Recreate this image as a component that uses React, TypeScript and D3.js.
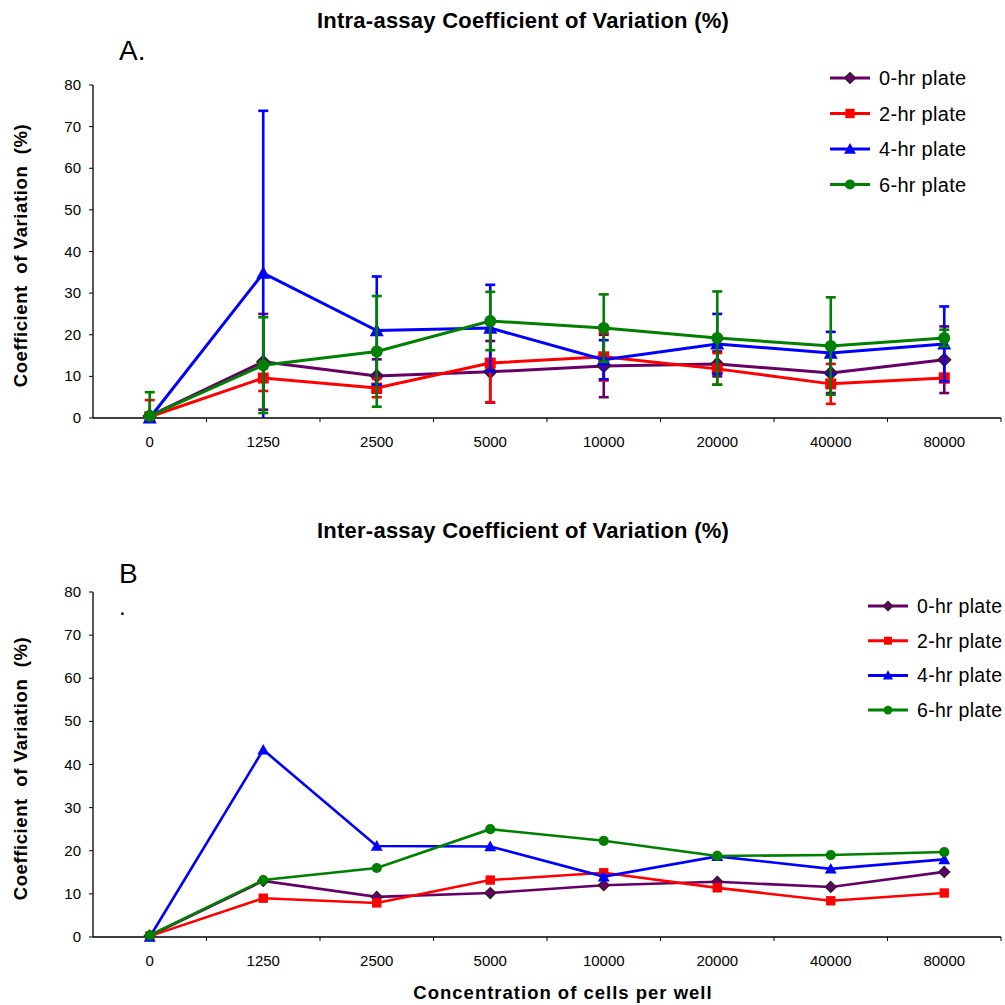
import React from "react";
import * as d3 from "d3";

const categories = ["0", "1250", "2500", "5000", "10000", "20000", "40000", "80000"];
const seriesNames = ["0-hr plate", "2-hr plate", "4-hr plate", "6-hr plate"];
const yTicks = [0, 10, 20, 30, 40, 50, 60, 70, 80];

// panel A: intra-assay means and error bar half-widths
const intraHr0 = [0.5, 13.5, 10.1, 11.1, 12.5, 13.0, 10.8, 14.0];
const intraHr2 = [0.3, 9.6, 7.2, 13.2, 14.7, 11.8, 8.2, 9.6];
const intraHr4 = [0.0, 34.8, 21.0, 21.6, 14.0, 17.8, 15.6, 17.8];
const intraHr6 = [0.5, 12.7, 16.0, 23.3, 21.6, 19.2, 17.3, 19.2];
const intraErr0 = [0, 11.5, 4.0, 7.4, 7.5, 3.0, 4.8, 8.0];
const intraErr2 = [4.0, 3.1, 2.2, 9.4, 5.7, 3.8, 4.8, 1.0];
const intraErr4 = [0, 39.0, 13.0, 10.4, 4.7, 7.2, 5.1, 9.0];
const intraErr6 = [5.7, 11.5, 13.3, 7.0, 8.1, 11.2, 11.7, 2.0];

// panel B: inter-assay means
const interHr0 = [0.3, 13.0, 9.3, 10.2, 12.0, 12.8, 11.6, 15.1];
const interHr2 = [0.2, 9.0, 7.9, 13.2, 14.9, 11.4, 8.4, 10.2];
const interHr4 = [0.0, 43.4, 21.1, 21.0, 14.0, 18.7, 15.8, 18.0];
const interHr6 = [0.4, 13.2, 16.0, 25.0, 22.3, 18.8, 19.0, 19.7];

const colors = ["#660066", "#ff0000", "#0000ff", "#008000"];
const shapes = ["diamond", "square", "triangle", "circle"];

type Panel = {
  top: number;
  bottom: number;
  title: string;
  titleY: number;
  letter: string;
  letterY: number;
  dot: boolean;
  values: number[][];
  errors: number[][] | null;
  legendX: number;
  legendY: number;
  legendGap: number;
  legendFont: number;
  markerScale: number;
  lineWidth: number;
  tickLabelY: number;
};

function Marker({ shape, x, y, color, s }: { shape: string; x: number; y: number; color: string; s: number }) {
  if (shape === "diamond") {
    const r = 6.5 * s;
    return (
      <path
        d={`M${x},${y - r}L${x + r},${y}L${x},${y + r}L${x - r},${y}Z`}
        fill={color}
        stroke="#222"
        strokeWidth={1.2}
      />
    );
  }
  if (shape === "square") {
    const r = 5.5 * s;
    return <rect x={x - r} y={y - r} width={2 * r} height={2 * r} fill={color} />;
  }
  if (shape === "triangle") {
    const r = 7 * s;
    return <path d={`M${x},${y - r}L${x + r},${y + r * 0.8}L${x - r},${y + r * 0.8}Z`} fill={color} />;
  }
  return <circle cx={x} cy={y} r={6 * s} fill={color} />;
}

function ChartPanel({ p }: { p: Panel }) {
  const left = 93;
  const right = 1001;
  const x = d3.scaleBand<string>().domain(categories).range([left, right]);
  const y = d3.scaleLinear().domain([0, 80]).range([p.bottom, p.top]);
  const cx = (c: string) => (x(c) ?? 0) + x.bandwidth() / 2;
  const line = d3
    .line<number>()
    .x((_, i) => cx(categories[i]))
    .y((v) => y(v));
  const font = "Liberation Sans, Arial, sans-serif";
  const boundaries = categories.map((c) => (x(c) ?? 0) + x.bandwidth());

  return (
    <g fontFamily={font}>
      <text x={523} y={p.titleY} textAnchor="middle" fontSize={22} fontWeight="bold" letterSpacing={0.25}>
        {p.title}
      </text>
      <text x={119} y={p.letterY} fontSize={28}>
        {p.letter}
      </text>
      {p.dot ? (
        <text x={119} y={p.letterY + 32} fontSize={24}>
          .
        </text>
      ) : null}
      <text
        transform={`translate(27,${(p.top + p.bottom) / 2 + 4}) rotate(-90)`}
        textAnchor="middle"
        fontSize={18.5}
        fontWeight="bold"
        letterSpacing={0.6}
        xmlSpace="preserve"
      >
        {"Coefficient  of Variation  (%)"}
      </text>
      {/* axes */}
      <line x1={left} x2={left} y1={p.top} y2={p.bottom} stroke="#000" strokeWidth={1.3} />
      <line x1={left} x2={right} y1={p.bottom} y2={p.bottom} stroke="#000" strokeWidth={1.6} />
      {yTicks.map((t) => (
        <g key={t}>
          <line x1={left - 4} x2={left} y1={y(t)} y2={y(t)} stroke="#000" />
          <text x={81} y={y(t) + 5} textAnchor="end" fontSize={15}>
            {t}
          </text>
        </g>
      ))}
      {boundaries.map((b, i) => (
        <line key={i} x1={b} x2={b} y1={p.bottom} y2={p.bottom + 4} stroke="#000" />
      ))}
      {categories.map((c) => (
        <text key={c} x={cx(c)} y={p.tickLabelY} textAnchor="middle" fontSize={15}>
          {c}
        </text>
      ))}
      {/* series */}
      {p.values.map((vals, si) => (
        <g key={si}>
          {p.errors
            ? vals.map((v, i) => {
                const e = p.errors![si][i];
                if (!e) return null;
                const hi = Math.min(80, v + e);
                const lo = Math.max(0, v - e);
                const xx = cx(categories[i]);
                return (
                  <g key={i} stroke={colors[si]} strokeWidth={2.6}>
                    <line x1={xx} x2={xx} y1={y(hi)} y2={y(lo)} />
                    <line x1={xx - 5} x2={xx + 5} y1={y(hi)} y2={y(hi)} />
                    {v - e > 0 ? <line x1={xx - 5} x2={xx + 5} y1={y(lo)} y2={y(lo)} /> : null}
                  </g>
                );
              })
            : null}
          <path d={line(vals) ?? ""} fill="none" stroke={colors[si]} strokeWidth={p.lineWidth} />
          {vals.map((v, i) => (
            <Marker key={i} shape={shapes[si]} x={cx(categories[i])} y={y(v)} color={colors[si]} s={p.markerScale} />
          ))}
        </g>
      ))}
      {/* legend */}
      {seriesNames.map((name, si) => {
        const ly = p.legendY + si * p.legendGap;
        return (
          <g key={name}>
            <line x1={p.legendX} x2={p.legendX + 40} y1={ly} y2={ly} stroke={colors[si]} strokeWidth={3} />
            <Marker shape={shapes[si]} x={p.legendX + 20} y={ly} color={colors[si]} s={p.markerScale * 0.85} />
            <text x={p.legendX + 49} y={ly + p.legendFont * 0.36} fontSize={p.legendFont} letterSpacing={0.3}>
              {name}
            </text>
          </g>
        );
      })}
    </g>
  );
}

const panelA: Panel = {
  top: 85,
  bottom: 418,
  title: "Intra-assay Coefficient of Variation (%)",
  titleY: 28,
  letter: "A.",
  letterY: 60,
  dot: false,
  values: [intraHr0, intraHr2, intraHr4, intraHr6],
  errors: [intraErr0, intraErr2, intraErr4, intraErr6],
  legendX: 830,
  legendY: 78,
  legendGap: 35.5,
  legendFont: 20,
  markerScale: 1,
  lineWidth: 3,
  tickLabelY: 447,
};

const panelB: Panel = {
  top: 592,
  bottom: 937,
  title: "Inter-assay Coefficient of Variation (%)",
  titleY: 538,
  letter: "B",
  letterY: 583,
  dot: true,
  values: [interHr0, interHr2, interHr4, interHr6],
  errors: null,
  legendX: 868,
  legendY: 606,
  legendGap: 34.7,
  legendFont: 19.5,
  markerScale: 0.85,
  lineWidth: 2.6,
  tickLabelY: 966,
};

export default function App() {
  return (
    <svg
      width={1005}
      height={1005}
      style={{ position: "absolute", left: 0, top: 0, background: "#fff" }}
    >
      <rect width={1005} height={1005} fill="#fff" />
      <ChartPanel p={panelA} />
      <ChartPanel p={panelB} />
      <text
        x={563}
        y={999}
        textAnchor="middle"
        fontSize={18.5}
        fontWeight="bold"
        letterSpacing={1}
        fontFamily="Liberation Sans, Arial, sans-serif"
      >
        Concentration of cells per well
      </text>
    </svg>
  );
}
